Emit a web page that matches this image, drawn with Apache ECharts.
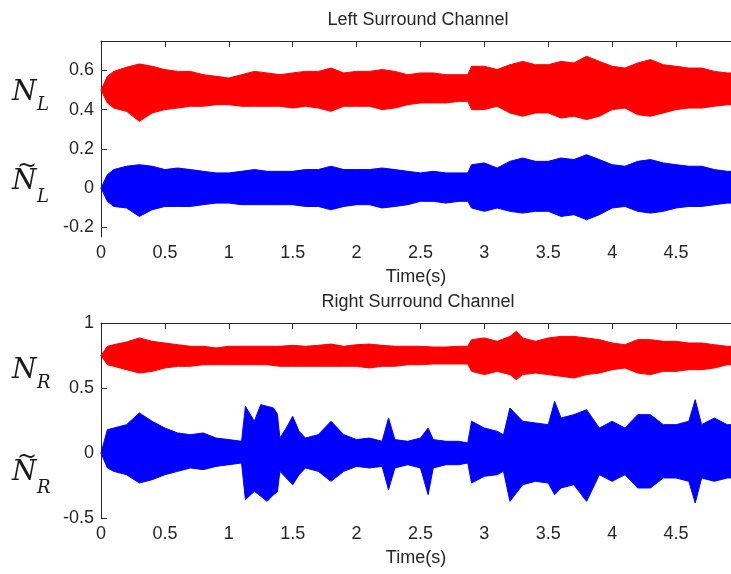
<!DOCTYPE html>
<html>
<head>
<meta charset="utf-8">
<script src="https://cdn.jsdelivr.net/npm/echarts@6/dist/echarts.min.js"></script>
<style>
  html, body { margin: 0; padding: 0; background: #fff; }
  #chart { width: 731px; height: 574px; }
</style>
</head>
<body>
<div id="chart"></div>
<script>
// envelope of each waveform (seconds / amplitude)
const timeLeft = [0, 0.05, 0.1, 0.2, 0.3, 0.4, 0.5, 0.6, 0.7, 0.8, 0.9, 1.0, 1.1, 1.2, 1.3, 1.4, 1.5, 1.6, 1.7, 1.8, 1.9, 2.0, 2.1, 2.2, 2.3, 2.4, 2.5, 2.6, 2.7, 2.8, 2.87, 2.9, 3.0, 3.1, 3.2, 3.3, 3.4, 3.5, 3.6, 3.7, 3.8, 3.9, 4.0, 4.1, 4.2, 4.3, 4.4, 4.5, 4.6, 4.7, 4.8, 4.9, 4.93]
const nlUpper = [0.5, 0.57, 0.595, 0.616, 0.633, 0.621, 0.604, 0.595, 0.595, 0.578, 0.57, 0.561, 0.578, 0.595, 0.587, 0.578, 0.587, 0.595, 0.595, 0.612, 0.587, 0.595, 0.595, 0.604, 0.595, 0.578, 0.587, 0.587, 0.578, 0.578, 0.578, 0.621, 0.621, 0.604, 0.629, 0.646, 0.629, 0.629, 0.646, 0.638, 0.672, 0.646, 0.621, 0.612, 0.638, 0.655, 0.629, 0.621, 0.612, 0.612, 0.595, 0.587, 0.587]
const nlLower = [0.5, 0.434, 0.408, 0.391, 0.34, 0.383, 0.4, 0.408, 0.417, 0.417, 0.425, 0.425, 0.417, 0.417, 0.417, 0.417, 0.408, 0.417, 0.408, 0.391, 0.417, 0.417, 0.417, 0.4, 0.408, 0.425, 0.434, 0.434, 0.434, 0.442, 0.442, 0.4, 0.4, 0.417, 0.383, 0.366, 0.383, 0.383, 0.357, 0.366, 0.349, 0.366, 0.4, 0.408, 0.374, 0.366, 0.383, 0.4, 0.408, 0.408, 0.417, 0.425, 0.425]
const nlTildeUpper = [0, 0.068, 0.094, 0.111, 0.119, 0.111, 0.094, 0.102, 0.094, 0.085, 0.077, 0.077, 0.085, 0.094, 0.085, 0.085, 0.085, 0.094, 0.094, 0.111, 0.094, 0.094, 0.094, 0.102, 0.094, 0.085, 0.077, 0.085, 0.077, 0.077, 0.077, 0.119, 0.128, 0.102, 0.136, 0.153, 0.136, 0.136, 0.153, 0.145, 0.17, 0.145, 0.119, 0.111, 0.136, 0.145, 0.128, 0.119, 0.111, 0.111, 0.094, 0.085, 0.085]
const nlTildeLower = [0, -0.068, -0.094, -0.102, -0.145, -0.111, -0.094, -0.094, -0.094, -0.085, -0.077, -0.077, -0.085, -0.085, -0.085, -0.085, -0.085, -0.094, -0.094, -0.111, -0.094, -0.085, -0.085, -0.102, -0.094, -0.085, -0.068, -0.068, -0.077, -0.068, -0.068, -0.102, -0.119, -0.102, -0.119, -0.128, -0.119, -0.119, -0.145, -0.136, -0.162, -0.136, -0.102, -0.094, -0.119, -0.128, -0.119, -0.102, -0.094, -0.094, -0.085, -0.077, -0.077]

const timeRight = [0, 0.05, 0.1, 0.2, 0.3, 0.4, 0.5, 0.6, 0.7, 0.8, 0.9, 1.0, 1.1, 1.2, 1.3, 1.4, 1.5, 1.6, 1.7, 1.8, 1.9, 2.0, 2.1, 2.2, 2.3, 2.4, 2.5, 2.6, 2.7, 2.8, 2.87, 2.9, 3.0, 3.1, 3.2, 3.25, 3.3, 3.4, 3.5, 3.6, 3.7, 3.8, 3.9, 4.0, 4.1, 4.2, 4.3, 4.4, 4.5, 4.6, 4.7, 4.8, 4.9, 4.93]
const nrUpper = [0.75, 0.821, 0.833, 0.854, 0.885, 0.859, 0.846, 0.833, 0.821, 0.821, 0.808, 0.821, 0.821, 0.821, 0.821, 0.821, 0.828, 0.821, 0.828, 0.838, 0.821, 0.833, 0.838, 0.828, 0.821, 0.821, 0.821, 0.815, 0.815, 0.821, 0.821, 0.872, 0.885, 0.859, 0.897, 0.936, 0.885, 0.859, 0.885, 0.897, 0.897, 0.885, 0.872, 0.846, 0.833, 0.872, 0.872, 0.859, 0.859, 0.846, 0.846, 0.833, 0.821, 0.821]
const nrLower = [0.75, 0.679, 0.667, 0.641, 0.615, 0.628, 0.654, 0.667, 0.667, 0.679, 0.679, 0.679, 0.679, 0.679, 0.679, 0.667, 0.667, 0.667, 0.667, 0.667, 0.667, 0.667, 0.654, 0.667, 0.667, 0.679, 0.679, 0.685, 0.685, 0.685, 0.685, 0.628, 0.603, 0.628, 0.603, 0.564, 0.603, 0.615, 0.603, 0.59, 0.577, 0.603, 0.615, 0.641, 0.654, 0.615, 0.603, 0.628, 0.628, 0.641, 0.641, 0.654, 0.679, 0.679]

const timeRightTilde = [0, 0.05, 0.1, 0.2, 0.3, 0.4, 0.5, 0.6, 0.7, 0.8, 0.9, 1.0, 1.1, 1.13, 1.2, 1.25, 1.3, 1.35, 1.38, 1.4, 1.45, 1.5, 1.55, 1.6, 1.7, 1.8, 1.9, 2.0, 2.1, 2.2, 2.25, 2.3, 2.4, 2.5, 2.56, 2.6, 2.7, 2.8, 2.87, 2.9, 3.0, 3.1, 3.15, 3.2, 3.3, 3.4, 3.5, 3.55, 3.6, 3.7, 3.8, 3.9, 4.0, 4.1, 4.2, 4.3, 4.4, 4.5, 4.6, 4.65, 4.7, 4.8, 4.9, 4.93]
const nrTildeUpper = [0, 0.179, 0.192, 0.218, 0.308, 0.244, 0.192, 0.154, 0.141, 0.154, 0.115, 0.103, 0.09, 0.359, 0.244, 0.372, 0.359, 0.346, 0.3, 0.115, 0.192, 0.282, 0.167, 0.115, 0.141, 0.244, 0.141, 0.103, 0.115, 0.09, 0.269, 0.103, 0.09, 0.115, 0.192, 0.103, 0.09, 0.09, 0.077, 0.244, 0.192, 0.167, 0.141, 0.346, 0.244, 0.231, 0.218, 0.397, 0.269, 0.295, 0.333, 0.192, 0.244, 0.192, 0.295, 0.295, 0.218, 0.218, 0.244, 0.41, 0.218, 0.269, 0.218, 0.218]
const nrTildeLower = [0, -0.115, -0.141, -0.167, -0.231, -0.205, -0.167, -0.141, -0.115, -0.128, -0.103, -0.09, -0.077, -0.359, -0.295, -0.333, -0.372, -0.321, -0.3, -0.141, -0.192, -0.244, -0.167, -0.115, -0.141, -0.218, -0.141, -0.103, -0.115, -0.103, -0.282, -0.115, -0.09, -0.115, -0.321, -0.115, -0.09, -0.09, -0.077, -0.231, -0.179, -0.167, -0.141, -0.372, -0.244, -0.218, -0.231, -0.321, -0.269, -0.244, -0.372, -0.167, -0.218, -0.167, -0.269, -0.269, -0.192, -0.192, -0.218, -0.385, -0.192, -0.218, -0.192, -0.192]

const leftTicks = [-0.2, 0, 0.2, 0.4, 0.6]
const rightTicks = [-0.5, 0, 0.5, 1]

const RED = '#ff0000'
const BLUE = '#0000ff'
const INK = '#262626'
const SANS = 'Liberation Sans, Arial, sans-serif'
const SERIF = 'DejaVu Serif, serif'

// a filled envelope: one polygon along the upper edge and back along the lower one
function band(name, axis, time, lower, upper, color) {
  return {
    name: name,
    type: 'custom',
    xAxisIndex: axis,
    yAxisIndex: axis / 2,
    encode: { x: 0, y: [1, 2] },
    data: time.map((t, i) => [t, lower[i], upper[i]]),
    renderItem: (params, api) => {
      if (params.dataIndex !== 0) return
      const pts = []
      for (let i = 0; i < time.length; i++) pts.push(api.coord([time[i], upper[i]]))
      for (let i = time.length - 1; i >= 0; i--) pts.push(api.coord([time[i], lower[i]]))
      return {
        type: 'polygon',
        shape: { points: pts },
        style: { fill: color, stroke: color, lineWidth: 1 }
      }
    }
  }
}

function timeAxis(grid) {
  return {
    type: 'value', gridIndex: grid, min: 0, max: 4.93, interval: 0.5,
    name: 'Time(s)', nameLocation: 'middle', nameGap: 31,
    nameTextStyle: { fontFamily: SANS, fontSize: 18, color: INK },
    axisLine: { lineStyle: { color: INK, width: 1 } },
    axisTick: { inside: true, length: 6, lineStyle: { color: INK } },
    axisLabel: { margin: 7, fontFamily: SANS, fontSize: 18, color: INK, showMaxLabel: false },
    splitLine: { show: false }
  }
}

function boxTop(grid) {
  return {
    type: 'value', gridIndex: grid, position: 'top', min: 0, max: 4.93, interval: 0.5,
    axisLine: { lineStyle: { color: INK, width: 1 } },
    axisTick: { inside: true, length: 6, lineStyle: { color: INK } },
    axisLabel: { show: false },
    splitLine: { show: false }
  }
}

function ampAxis(grid, min, max, ticks) {
  return {
    type: 'value', gridIndex: grid, min: min, max: max,
    axisLine: { show: true, lineStyle: { color: INK, width: 1 } },
    axisTick: { show: true, inside: true, length: 6, customValues: ticks, lineStyle: { color: INK } },
    axisLabel: { margin: 7, customValues: ticks, fontFamily: SANS, fontSize: 18, color: INK },
    splitLine: { show: false }
  }
}

// N with a subscript; the tilde versions get a wide tilde drawn over the N
function label(x, y, sub, tilde) {
  const items = [
    {
      type: 'text', x: x, y: y,
      style: { text: 'N', font: 'italic 28px ' + SERIF, fill: '#1a1a1a', align: 'left', verticalAlign: 'middle', textAlign: 'left', textVerticalAlign: 'middle' }
    },
    {
      type: 'text', x: x + 25, y: y + (tilde ? 15 : 12),
      style: { text: sub, font: 'italic 18px ' + SERIF, fill: '#1a1a1a', align: 'left', verticalAlign: 'middle', textAlign: 'left', textVerticalAlign: 'middle' }
    }
  ]
  if (tilde) {
    items.push({
      type: 'text', x: x + 15, y: y - 15,
      style: { text: '~', font: '24px ' + SERIF, fill: '#1a1a1a', align: 'center', verticalAlign: 'middle', textAlign: 'center', textVerticalAlign: 'middle' }
    })
  }
  return items
}

function heading(y, text) {
  return {
    type: 'text', x: 418, y: y,
    style: { text: text, font: '18px ' + SANS, fill: INK, align: 'center', verticalAlign: 'top', textAlign: 'center', textVerticalAlign: 'top' }
  }
}

const chart = echarts.init(document.getElementById('chart'), null, { renderer: 'canvas' })

const option = {
  animation: false,
  backgroundColor: '#fff',
  grid: [
    { left: 101, top: 41, width: 630, height: 196 },
    { left: 101, top: 323, width: 630, height: 195 }
  ],
  xAxis: [timeAxis(0), boxTop(0), timeAxis(1), boxTop(1)],
  yAxis: [ampAxis(0, -0.25, 0.75, leftTicks), ampAxis(1, -0.5, 1, rightTicks)],
  series: [
    band('NL', 0, timeLeft, nlLower, nlUpper, RED),
    band('NLt', 0, timeLeft, nlTildeLower, nlTildeUpper, BLUE),
    band('NR', 2, timeRight, nrLower, nrUpper, RED),
    band('NRt', 2, timeRightTilde, nrTildeLower, nrTildeUpper, BLUE)
  ],
  graphic: [
    heading(11, 'Left Surround Channel'),
    heading(293, 'Right Surround Channel'),
    ...label(12, 93, 'L', false),
    ...label(12, 182, 'L', true),
    ...label(12, 371, 'R', false),
    ...label(12, 473, 'R', true)
  ]
}

chart.setOption(option)
</script>
</body>
</html>
